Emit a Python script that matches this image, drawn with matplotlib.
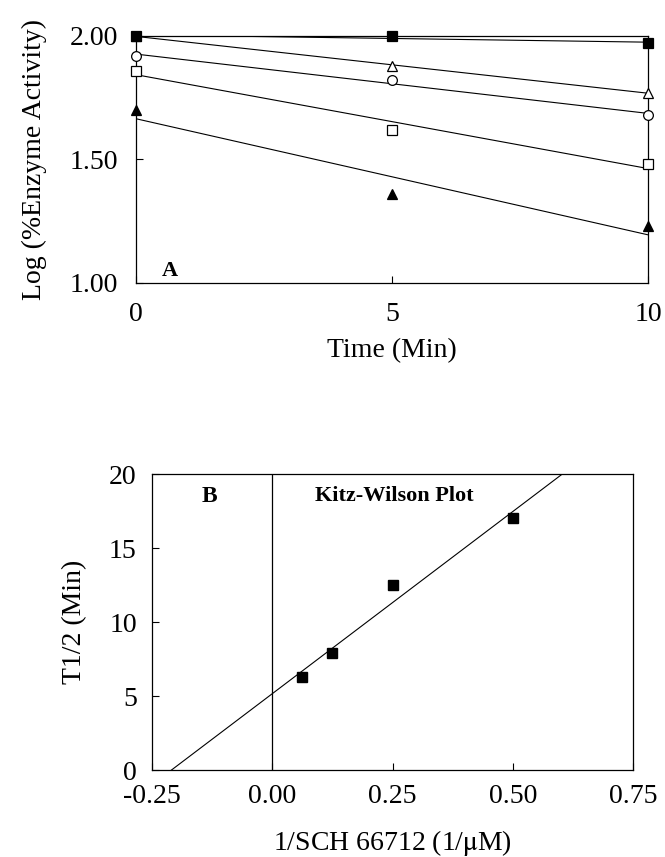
import numpy as np
import matplotlib
matplotlib.use('Agg')
import matplotlib.pyplot as plt
from matplotlib.ticker import FormatStrFormatter

plt.rcParams['font.family'] = ['Liberation Serif', 'DejaVu Serif']
plt.rcParams['mathtext.fontset'] = 'stix'

# Panel A: log(% activity) vs. preincubation time
time_min = [0, 5, 10]
act_ctrl = [2.00, 2.00, 1.97]       # filled squares
act_tri_open = [2.00, 1.88, 1.77]   # open triangles
act_circle = [1.92, 1.82, 1.68]     # open circles
act_sq_open = [1.86, 1.62, 1.48]    # open squares
act_tri_fill = [1.70, 1.36, 1.23]   # filled triangles

# Panel B: Kitz-Wilson replot
inv_conc = [0.0625, 0.125, 0.25, 0.5]
t_half = [6.3, 7.9, 12.5, 17.0]

fig = plt.figure(figsize=(6.65, 8.57), dpi=100)

axA = fig.add_axes([0.2045, 0.6698, 0.7699, 0.2882])
series = [
    (act_ctrl, 's', 'black'),
    (act_tri_open, '^', 'white'),
    (act_circle, 'o', 'white'),
    (act_sq_open, 's', 'white'),
    (act_tri_fill, '^', 'black'),
]
xfit = np.array([0, 10])
for vals, mk, face in series:
    k, b = np.polyfit(time_min, vals, 1)
    axA.plot(xfit, k * xfit + b, color='black', lw=0.8, zorder=2)
for vals, mk, face in reversed(series):
    axA.plot(time_min, vals, linestyle='none', marker=mk, ms=7,
             mfc=face, mec='black', mew=0.9, zorder=3, clip_on=False)

axA.set_xlim(0, 10)
axA.set_ylim(1.0, 2.0)
axA.set_xticks([0, 5, 10])
axA.set_yticks([1.0, 1.5, 2.0])
axA.yaxis.set_major_formatter(FormatStrFormatter('%.2f'))
axA.tick_params(axis='x', pad=14)
axA.tick_params(axis='y', pad=13)
axA.set_xlabel('Time (Min)', fontsize=20, labelpad=8)
axA.set_ylabel('Log (%Enzyme Activity)', fontsize=20, labelpad=16)
axA.text(0.5, 1.05, 'A', fontsize=16, fontweight='bold', va='center', ha='left')

axB = fig.add_axes([0.2286, 0.1015, 0.7233, 0.3454])
kb, bb = np.polyfit(inv_conc, t_half, 1)
xl = np.array([-0.25, 0.75])
axB.plot(xl, kb * xl + bb, color='black', lw=0.8)
axB.axvline(0, color='black', lw=0.9)
axB.plot(inv_conc, t_half, linestyle='none', marker='s', ms=7.5,
         mfc='black', mec='black', zorder=3)
axB.set_xlim(-0.25, 0.75)
axB.set_ylim(0, 20)
axB.set_xticks([-0.25, 0.0, 0.25, 0.5, 0.75])
axB.set_yticks([0, 5, 10, 15, 20])
axB.xaxis.set_major_formatter(FormatStrFormatter('%.2f'))
axB.tick_params(axis='x', pad=10)
axB.tick_params(axis='y', pad=11)
axB.set_xlabel('1/SCH 66712 (1/$\\mathrm{\\mu}$M)', fontsize=20, labelpad=14)
axB.set_ylabel('T1/2 (Min)', fontsize=20, labelpad=16)
axB.text(-0.131, 18.5, 'B', fontsize=17, fontweight='bold', ha='center', va='center')
axB.text(0.253, 18.5, 'Kitz-Wilson Plot', fontsize=16, fontweight='bold',
         ha='center', va='center')

for ax in (axA, axB):
    ax.tick_params(direction='in', length=5, width=0.8, labelsize=20)
    for sp in ax.spines.values():
        sp.set_linewidth(0.9)

fig.savefig('out.png', dpi=100, facecolor='white')
